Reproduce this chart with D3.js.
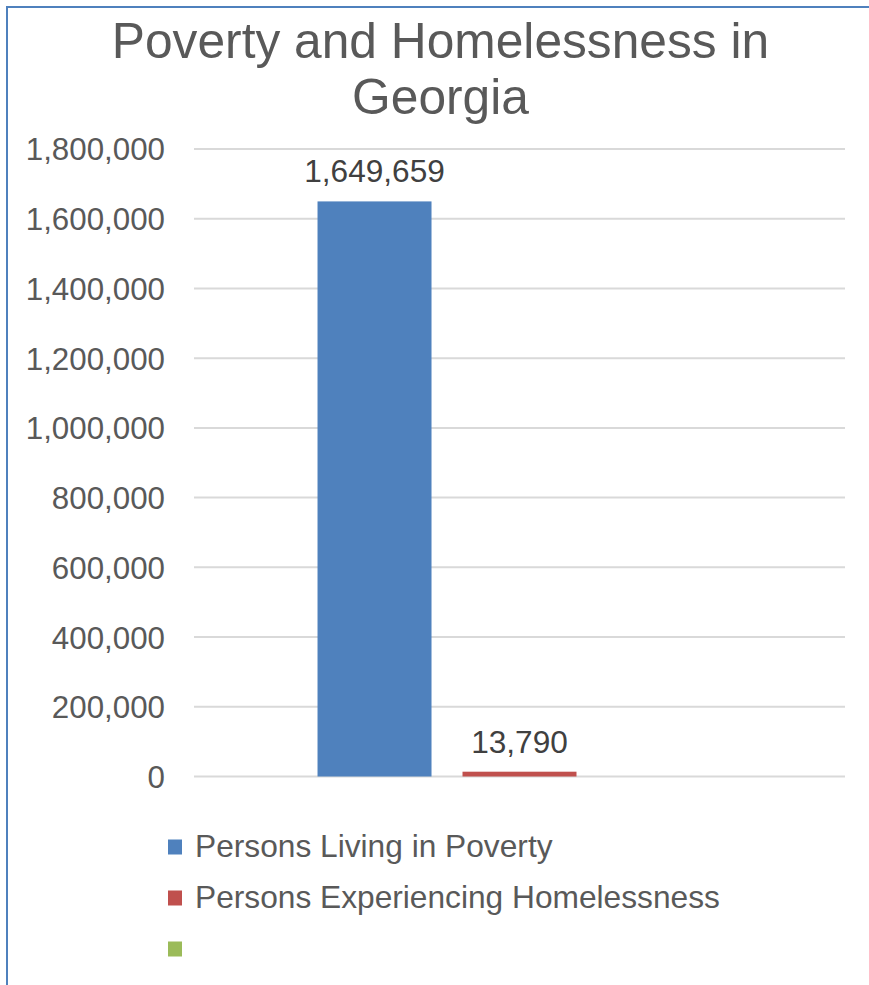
<!DOCTYPE html>
<html>
<head>
<meta charset="utf-8">
<script src="https://cdn.jsdelivr.net/npm/d3@7/dist/d3.min.js"></script>
<style>
  html, body { margin: 0; padding: 0; background: #ffffff; }
  svg { display: block; }
  text { font-family: "Liberation Sans", Arial, sans-serif; }
</style>
</head>
<body>
<svg id="chart" width="869" height="985"></svg>
<script>
// Series shown in the chart (one category, three series; the last one is empty)
const seriesNames = ["Persons Living in Poverty", "Persons Experiencing Homelessness", ""];
const seriesValues = [1649659, 13790, null];
const seriesColors = ["#4f81bd", "#c0504d", "#9bbb59"];
const tickValues = [0, 200000, 400000, 600000, 800000, 1000000, 1200000, 1400000, 1600000, 1800000];
const titleLines = ["Poverty and Homelessness in", "Georgia"];

const svg = d3.select("#chart");
const W = 869, H = 985;

// Chart frame
svg.append("rect")
  .attr("x", 7).attr("y", 7)
  .attr("width", W + 10).attr("height", H + 10)
  .attr("fill", "#ffffff")
  .attr("stroke", "#4f81bd")
  .attr("stroke-width", 2);

// Plot area
const plot = { left: 194, right: 845, top: 149, bottom: 776.5 };

const y = d3.scaleLinear()
  .domain([0, 1800000])
  .range([plot.bottom, plot.top]);

const x = d3.scaleBand()
  .domain(d3.range(seriesNames.length))
  .range([plot.left, plot.right])
  .paddingInner(31 / 145)
  .paddingOuter(0.852);

// Gridlines
svg.append("g")
  .selectAll("line")
  .data(tickValues)
  .join("line")
  .attr("x1", plot.left).attr("x2", plot.right)
  .attr("y1", d => y(d)).attr("y2", d => y(d))
  .attr("stroke", "#d9d9d9")
  .attr("stroke-width", 2);

// Y axis labels
const yAxis = d3.axisLeft(y)
  .tickValues(tickValues)
  .tickFormat(d3.format(","))
  .tickSize(0)
  .tickPadding(0);

const yG = svg.append("g")
  .attr("transform", `translate(165,0)`)
  .call(yAxis);
yG.select(".domain").remove();
yG.selectAll("text")
  .attr("fill", "#595959")
  .style("font-size", "31.3px")
  .style("font-family", "'Liberation Sans', Arial, sans-serif")
  .attr("dy", "0.35em");

// Bars
const barData = seriesValues.map((v, i) => ({ i, v })).filter(d => d.v != null);

svg.append("g")
  .selectAll("rect")
  .data(barData)
  .join("rect")
  .attr("x", d => x(d.i))
  .attr("width", x.bandwidth())
  .attr("y", d => y(d.v))
  .attr("height", d => y(0) - y(d.v))
  .attr("fill", d => seriesColors[d.i]);

// Data labels
svg.append("g")
  .selectAll("text")
  .data(barData)
  .join("text")
  .attr("x", d => x(d.i) + x.bandwidth() / 2)
  .attr("y", d => y(d.v) - 19)
  .attr("text-anchor", "middle")
  .attr("fill", "#404040")
  .style("font-size", "31.6px")
  .text(d => d3.format(",")(d.v));

// Title
svg.append("g")
  .selectAll("text")
  .data(titleLines)
  .join("text")
  .attr("x", 440.5)
  .attr("y", (d, i) => 58 + i * 56)
  .attr("text-anchor", "middle")
  .attr("fill", "#595959")
  .style("font-size", "49.7px")
  .text(d => d);

// Legend
const legend = svg.append("g")
  .selectAll("g")
  .data(seriesNames)
  .join("g")
  .attr("transform", (d, i) => `translate(168,${847 + i * 51})`);

legend.append("rect")
  .attr("x", 0).attr("y", -7.5)
  .attr("width", 14).attr("height", 15)
  .attr("fill", (d, i) => seriesColors[i]);

legend.append("text")
  .attr("x", 27)
  .attr("y", 10)
  .attr("fill", "#595959")
  .style("font-size", "31.7px")
  .text(d => d);
</script>
</body>
</html>
